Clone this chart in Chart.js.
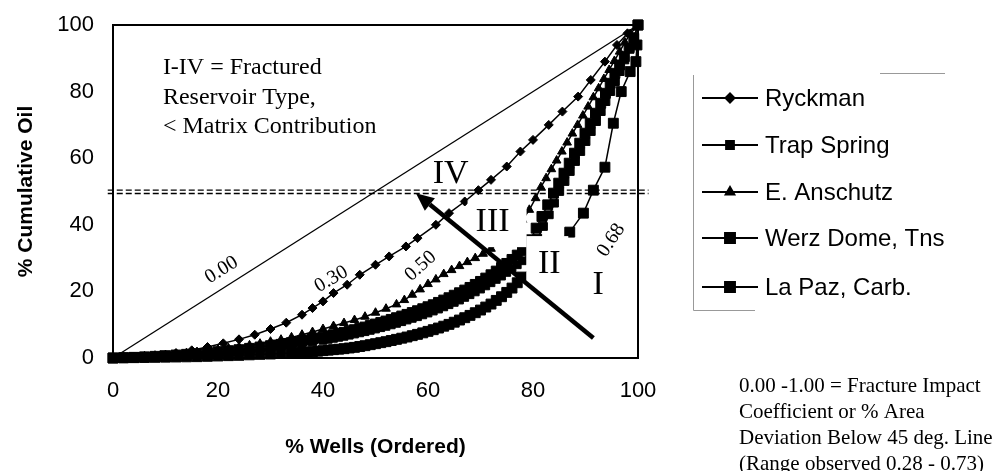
<!DOCTYPE html>
<html>
<head>
<meta charset="utf-8">
<script src="https://cdn.jsdelivr.net/npm/chart.js@4"></script>
<style>
  html, body { margin: 0; padding: 0; background: #fff; }
</style>
</head>
<body>
<canvas id="myChart" width="1000" height="471"></canvas>
<script>
// values: [% wells, % cumulative oil]
const ryckman = [[0,0],[3,0.2],[6,0.5],[9,0.9],[12,1.5],[15,2.3],[18,3.3],[21,4.4],[24,5.6],[27,7],[30,8.7],[33,10.6],[36,13],[38,15],[40,17],[42,19.5],[44.6,22],[47,25],[50,28],[52.6,30.5],[55.8,33.5],[58,36],[61.5,40],[64,43.5],[67,47],[69.6,50.4],[72,53.5],[75,57.5],[77.6,62],[80,65.5],[83,70],[85.6,74],[88.6,78.5],[91,83.5],[93.7,89],[96,94],[98,97.5],[100,100]];
const trapSpring = [[0,0],[2,0.1],[4,0.15],[6,0.25],[8,0.35],[10,0.5],[12,0.65],[14,0.8],[16,1],[18,1.2],[20,1.45],[22,1.7],[24,2],[26,2.3],[28,2.6],[30,3],[32,3.4],[34,3.8],[36,4.3],[38,4.8],[40,5.3],[41,5.6],[42,5.9],[43,6.2],[44,6.5],[45,6.85],[46,7.2],[47,7.55],[48,7.9],[49,8.3],[50,8.7],[51,9.1],[52,9.5],[53,9.95],[54,10.4],[55,10.9],[56,11.4],[57,11.9],[58,12.4],[59,12.95],[60,13.5],[61,14.1],[62,14.7],[63,15.35],[64,16],[65,16.7],[66,17.4],[67,18.2],[68,19],[69,19.85],[70,20.7],[71,21.65],[72,22.6],[73,23.6],[74,24.6],[75,25.7],[76,26.8],[77,28],[78,29.2],[79.8,32.5],[80.9,36],[82,39.5],[83.1,43],[84.1,46.5],[85.1,50],[86.1,53],[87.1,56],[88.1,59],[89.1,62],[90.1,65],[91.1,68],[92.1,71],[93,74],[93.9,77],[94.8,80],[95.7,83],[96.6,86],[97.5,89.5],[98.5,93],[99.3,96.5],[100,100]];
const eAnschutz = [[0,0],[2,0.15],[4,0.3],[6,0.5],[8,0.7],[10,0.9],[12,1.2],[14,1.5],[16,1.8],[18,2.1],[20,2.5],[22,2.9],[24,3.3],[26,3.8],[28,4.3],[30,4.9],[32,5.5],[34,6.2],[36,7],[38,7.8],[40,8.7],[42,9.6],[44,10.5],[46,11.4],[48,12.4],[50,13.6],[52,14.8],[54,16.1],[55.5,17.4],[57,19],[58.5,20.6],[60,22.2],[61.5,23.6],[63,25.2],[64.5,26.4],[66,27.6],[67.5,28.8],[69,30],[70.5,31.3],[72,32.8],[73.5,34.6],[75,36.6],[76.5,38.8],[78,41.5],[79.3,44.5],[80.5,48],[81.5,51.3],[82.5,54],[83.5,56.7],[84.5,59.3],[85.5,62],[86.5,64.7],[87.5,67.4],[88.5,70],[89.5,72.8],[90.5,75.5],[91.5,78.3],[92.5,81],[93.5,83.8],[94.5,86.5],[95.5,89.2],[96.5,92],[97.5,94.8],[98.5,97.3],[100,100]];
const werzDome = [[0,0],[2,0.1],[4,0.2],[6,0.35],[8,0.5],[10,0.7],[12,0.9],[14,1.1],[16,1.3],[18,1.6],[20,1.9],[22,2.2],[24,2.5],[26,2.9],[28,3.3],[30,3.7],[31,3.9],[32,4.1],[33,4.35],[34,4.6],[35,4.85],[36,5.1],[37,5.4],[38,5.7],[39,6],[40,6.3],[41,6.65],[42,7],[43,7.35],[44,7.7],[45,8.1],[46,8.5],[47,8.9],[48,9.3],[49,9.75],[50,10.2],[51,10.65],[52,11.1],[53,11.6],[54,12.1],[55,12.6],[56,13.1],[57,13.65],[58,14.2],[59,14.8],[60,15.4],[61,16],[62,16.7],[63,17.4],[64,18.1],[65,18.85],[66,19.6],[67,20.4],[68,21.2],[69,22.1],[70,23],[71,24],[72,25],[73,26.1],[74,27.2],[75,28.4],[76,29.6],[77,30.9],[78,32.3],[79.5,35.5],[80.6,39],[81.7,42.5],[82.8,46],[83.9,49.5],[84.9,52.5],[85.9,55.5],[86.9,58.5],[87.9,61.5],[88.9,64.5],[89.9,67.5],[90.9,70.5],[91.9,73.5],[92.9,76.5],[93.8,79.5],[94.7,82.5],[95.6,85.5],[96.5,88],[97.4,90.5],[98.3,93],[99.2,96],[100,100]];
const laPaz = [[0,0],[2,0.05],[4,0.1],[6,0.15],[8,0.2],[10,0.25],[12,0.3],[14,0.35],[16,0.4],[18,0.5],[20,0.6],[22,0.7],[24,0.8],[26,0.95],[28,1.1],[30,1.2],[32,1.35],[34,1.5],[35,1.6],[36,1.7],[37,1.8],[38,1.9],[39,2.05],[40,2.2],[41,2.35],[42,2.5],[43,2.65],[44,2.8],[45,3],[46,3.2],[47,3.45],[48,3.7],[49,4],[50,4.3],[51,4.6],[52,4.9],[53,5.25],[54,5.6],[55,5.95],[56,6.3],[57,6.7],[58,7.1],[59,7.55],[60,8],[61,8.5],[62,9],[63,9.55],[64,10.1],[65,10.75],[66,11.4],[67,12.1],[68,12.8],[69,13.6],[70,14.4],[71,15.3],[72,16.2],[73,17.3],[74,18.4],[75,19.7],[76,21],[77,22.6],[77.8,24.3],[87,37.8],[89.6,43.5],[91.5,50.4],[93.7,57.3],[95.3,70.5],[96.8,80],[98.5,86],[99.6,89],[99.8,94],[100,100]];
const diagonal = [[0,0],[100,100]];
const cutoffUpper = [[-1,50.4],[102,50.4]];
const cutoffLower = [[-1,49.4],[102,49.4]];

const seriesNames = ['Ryckman', 'Trap Spring', 'E. Anschutz', 'Werz Dome, Tns', 'La Paz, Carb.'];
const xTicks = [0, 20, 40, 60, 80, 100];
const yTicks = [0, 20, 40, 60, 80, 100];

// annotation text, anchored in data units
const coefLabels = [
    { text: '0.00', x: 20.7, y: 26.4, angle: -32 },
    { text: '0.30', x: 41.6, y: 23.7, angle: -30 },
    { text: '0.50', x: 58.6, y: 27.6, angle: -42 },
    { text: '0.68', x: 94.9, y: 35.4, angle: -57 }
];
const typeLabels = [
    { text: 'IV', x: 64.3, y: 55.3 },
    { text: 'III', x: 72.3, y: 40.8 },
    { text: 'II', x: 83.1, y: 28.2 },
    { text: 'I', x: 92.4, y: 22 }
];
const noteLines = ['I-IV = Fractured', 'Reservoir Type,', '< Matrix Contribution'];
const noteYs = [87.1, 78.1, 69.4];
const arrowFrom = [91.5, 6];
const arrowTo = [57.7, 49.5];
const footLines = ['0.00 -1.00 = Fracture Impact', 'Coefficient or % Area', 'Deviation Below 45 deg. Line', '(Range observed 0.28 - 0.73)'];

const toXY = arr => arr.map(p => ({ x: p[0], y: p[1] }));

const serif = '"Liberation Serif", "Times New Roman", serif';
const sans = '"Liberation Sans", Arial, sans-serif';

function series(label, data, style, radius) {
    return {
        label: label,
        data: toXY(data),
        borderColor: '#000',
        backgroundColor: '#000',
        borderWidth: 1.5,
        pointStyle: style,
        pointRadius: radius,
        pointBorderWidth: 1,
        clip: false
    };
}

function plainLine(data, dash) {
    return {
        label: '',
        data: toXY(data),
        borderColor: '#000',
        borderWidth: dash ? 1.4 : 1.3,
        borderDash: dash || [],
        pointRadius: 0,
        clip: false
    };
}

const datasets = [
    series(seriesNames[0], ryckman, 'rectRot', 4.5),
    series(seriesNames[2], eAnschutz, 'triangle', 5),
    series(seriesNames[1], trapSpring, 'rect', 5.5),
    series(seriesNames[3], werzDome, 'rect', 7),
    series(seriesNames[4], laPaz, 'rect', 7),
    plainLine(diagonal),
    plainLine(cutoffUpper, [6, 3]),
    plainLine(cutoffLower, [6, 3])
];

const overlay = {
    id: 'overlay',
    afterDatasetsDraw(chart) {
        const ctx = chart.ctx;
        const a = chart.chartArea;
        const sx = chart.scales.x, sy = chart.scales.y;
        ctx.save();

        // white boxes behind III and II, as in the source
        ctx.fillStyle = '#fff';
        let p = [sx.getPixelForValue(typeLabels[1].x), sy.getPixelForValue(typeLabels[1].y)];
        ctx.fillRect(p[0] - 25, p[1] - 22, 59, 47);
        p = [sx.getPixelForValue(typeLabels[2].x), sy.getPixelForValue(typeLabels[2].y)];
        ctx.fillRect(p[0] - 23, p[1] - 28, 42, 48);

        // frame
        ctx.strokeStyle = '#000';
        ctx.lineWidth = 2;
        ctx.strokeRect(a.left, a.top, a.right - a.left, a.bottom - a.top);

        // reservoir type numerals
        ctx.fillStyle = '#000';
        ctx.font = '34px ' + serif;
        ctx.textAlign = 'center';
        ctx.textBaseline = 'middle';
        typeLabels.forEach(l => {
            ctx.fillText(l.text, sx.getPixelForValue(l.x), sy.getPixelForValue(l.y));
        });

        // coefficient labels along curves
        ctx.font = '20px ' + serif;
        coefLabels.forEach(l => {
            ctx.save();
            ctx.translate(sx.getPixelForValue(l.x), sy.getPixelForValue(l.y));
            ctx.rotate(l.angle * Math.PI / 180);
            ctx.fillText(l.text, 0, 0);
            ctx.restore();
        });

        // note in the plot
        ctx.font = '24px ' + serif;
        ctx.textAlign = 'left';
        noteLines.forEach((t, i) => {
            ctx.fillText(t, sx.getPixelForValue(9.5), sy.getPixelForValue(noteYs[i]));
        });

        // arrow
        const x0 = sx.getPixelForValue(arrowFrom[0]), y0 = sy.getPixelForValue(arrowFrom[1]);
        const x1 = sx.getPixelForValue(arrowTo[0]), y1 = sy.getPixelForValue(arrowTo[1]);
        const ang = Math.atan2(y1 - y0, x1 - x0);
        const headLen = 18, headW = 8;
        const bx = x1 - headLen * Math.cos(ang), by = y1 - headLen * Math.sin(ang);
        ctx.lineWidth = 4.5;
        ctx.lineCap = 'butt';
        ctx.beginPath();
        ctx.moveTo(x0, y0);
        ctx.lineTo(bx, by);
        ctx.stroke();
        ctx.beginPath();
        ctx.moveTo(x1, y1);
        ctx.lineTo(bx + headW * Math.sin(ang), by - headW * Math.cos(ang));
        ctx.lineTo(bx - headW * Math.sin(ang), by + headW * Math.cos(ang));
        ctx.closePath();
        ctx.fill();

        // legend
        const legendYs = [98, 145, 192, 238, 287];
        const legendSets = [0, 2, 1, 3, 4];
        ctx.strokeStyle = '#999';
        ctx.lineWidth = 1;
        ctx.beginPath();
        ctx.moveTo(693.5, 75);
        ctx.lineTo(693.5, 310.5);
        ctx.lineTo(755, 310.5);
        ctx.moveTo(880, 73.5);
        ctx.lineTo(945, 73.5);
        ctx.stroke();
        ctx.font = '24px ' + sans;
        ctx.textBaseline = 'middle';
        legendYs.forEach((ly, i) => {
            const ds = datasets[legendSets[i]];
            ctx.strokeStyle = '#000';
            ctx.lineWidth = 2;
            ctx.beginPath();
            ctx.moveTo(702, ly);
            ctx.lineTo(758, ly);
            ctx.stroke();
            ctx.fillStyle = '#000';
            Chart.helpers.drawPoint(ctx, {
                pointStyle: ds.pointStyle,
                radius: ds.pointRadius,
                rotation: 0,
                borderWidth: 1
            }, 730, ly);
            ctx.fill();
            ctx.fillText(ds.label, 765, ly + 1);
        });

        // footnote under the legend
        ctx.font = '21px ' + serif;
        footLines.forEach((t, i) => {
            ctx.fillText(t, 739, 386 + i * 26);
        });

        ctx.restore();
    }
};

new Chart(document.getElementById('myChart'), {
    type: 'line',
    data: { datasets: datasets },
    options: {
        responsive: false,
        animation: false,
        devicePixelRatio: 1,
        layout: { padding: { left: 0, right: 362, top: 25, bottom: 0 } },
        plugins: {
            legend: { display: false },
            tooltip: { enabled: false }
        },
        scales: {
            x: {
                type: 'linear',
                min: 0,
                max: 100,
                afterFit: s => { s.height = 113; s.paddingLeft = 0; s.paddingRight = 0; },
                afterBuildTicks: s => { s.ticks = xTicks.map(v => ({ value: v })); },
                grid: { display: false, drawTicks: false },
                border: { display: false },
                ticks: { color: '#000', padding: 20, font: { family: sans, size: 22 } },
                title: {
                    display: true,
                    text: '% Wells (Ordered)',
                    color: '#000',
                    padding: { top: 11, bottom: 11 },
                    font: { family: sans, size: 21, weight: 'bold' }
                }
            },
            y: {
                type: 'linear',
                min: 0,
                max: 100,
                afterFit: s => { s.width = 113; s.paddingTop = 0; s.paddingBottom = 0; },
                afterBuildTicks: s => { s.ticks = yTicks.map(v => ({ value: v })); },
                grid: { display: false, drawTicks: false },
                border: { display: false },
                ticks: { color: '#000', padding: 19, font: { family: sans, size: 22 } },
                title: {
                    display: true,
                    text: '% Cumulative Oil',
                    color: '#000',
                    padding: { top: 14, bottom: 14 },
                    font: { family: sans, size: 21, weight: 'bold' }
                }
            }
        }
    },
    plugins: [overlay]
});
</script>
</body>
</html>
